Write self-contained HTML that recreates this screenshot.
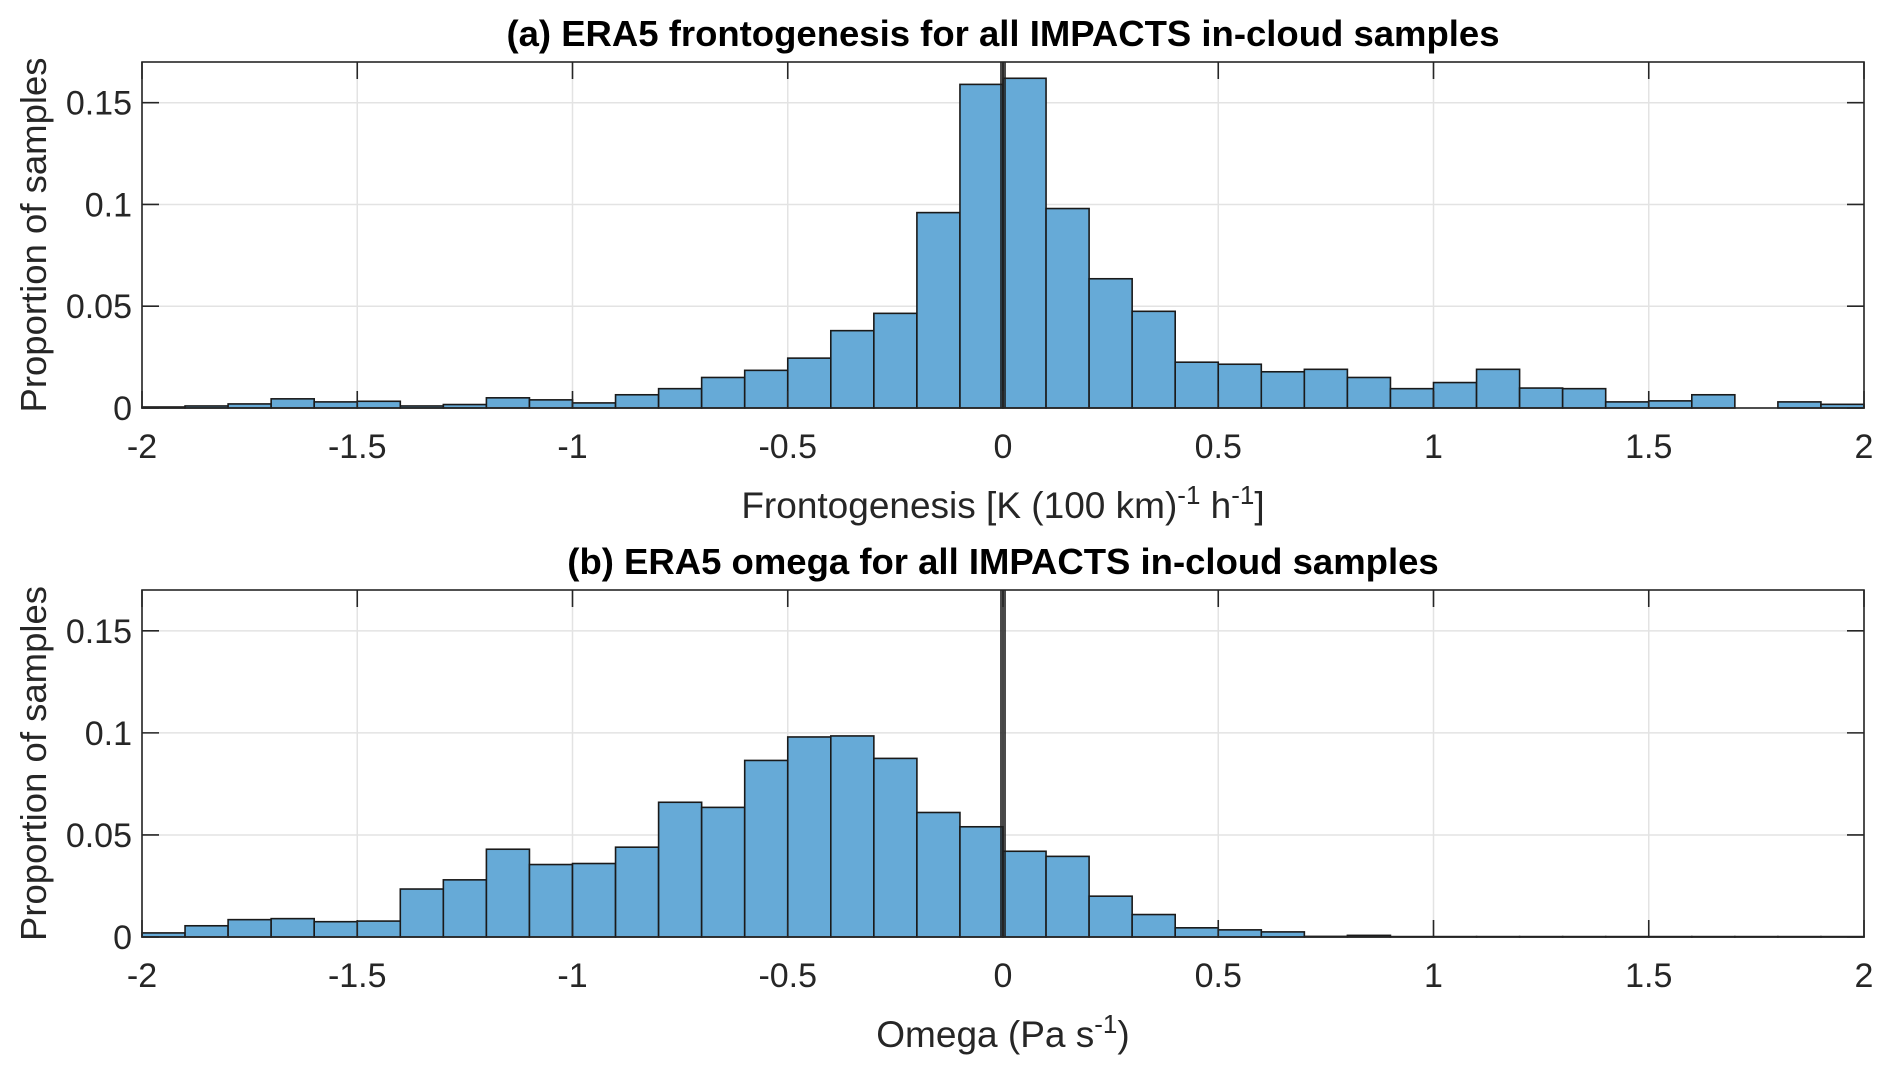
<!DOCTYPE html>
<html><head><meta charset="utf-8">
<style>
html,body{margin:0;padding:0;background:#fff;}
svg{display:block;font-family:"Liberation Sans",Helvetica,Arial,sans-serif;}
</style></head>
<body>
<svg id="chart" width="1892" height="1070" viewBox="0 0 1892 1070" xmlns="http://www.w3.org/2000/svg"></svg>
<script>
// ---- data ----
const binEdgesStart = -2;
const binWidth = 0.1;
const frontoValues = [0.0005,0.001,0.002,0.0045,0.003,0.0033,0.001,0.0017,0.005,0.004,
  0.0025,0.0065,0.0095,0.015,0.0185,0.0245,0.038,0.0465,0.096,0.159,
  0.162,0.098,0.0635,0.0475,0.0225,0.0215,0.0178,0.019,0.015,0.0095,
  0.0125,0.019,0.0098,0.0095,0.003,0.0035,0.0065,0,0.003,0.0018];
const omegaValues = [0.002,0.0055,0.0085,0.009,0.0075,0.0078,0.0235,0.028,0.043,0.0355,
  0.036,0.044,0.066,0.0635,0.0865,0.098,0.0985,0.0875,0.061,0.054,
  0.042,0.0395,0.02,0.011,0.0045,0.0035,0.0025,0.0003,0.0008,0.0002,
  0.0002,0.0002,0.0002,0.0002,0.0002,0.0002,0.0002,0.0002,0.0002,0.0002];
const xTicks = [-2,-1.5,-1,-0.5,0,0.5,1,1.5,2];
const xTickLabels = ["-2","-1.5","-1","-0.5","0","0.5","1","1.5","2"];
const yTicks = [0,0.05,0.1,0.15];
const yTickLabels = ["0","0.05","0.1","0.15"];
const refLineX = 0;

const NS = "http://www.w3.org/2000/svg";
const svg = document.getElementById('chart');
function mk(tag, attrs, parent){
  const e = document.createElementNS(NS, tag);
  for (const k in attrs) e.setAttribute(k, attrs[k]);
  (parent||svg).appendChild(e);
  return e;
}

function panel(opts){
  const L=142, R=1864, T=opts.top, B=opts.bottom;
  const xMin=-2, xMax=2, yMax=0.17;
  const sx = v => L + (v - xMin) / (xMax - xMin) * (R - L);
  const sy = v => B - v / yMax * (B - T);
  const g = mk('g', {});
  
  
  xTicks.forEach(t => {
    const ln = mk('line',{x1:sx(t),x2:sx(t),y1:T,y2:B,stroke:'#e3e3e3','stroke-width':1.5},g);
    
    
  });
  yTicks.forEach(t => {
    const ln = mk('line',{x1:L,x2:R,y1:sy(t),y2:sy(t),stroke:'#e3e3e3','stroke-width':1.5},g);
    
    
  });
  opts.values.forEach((v,i) => {
    const x0 = binEdgesStart + i*binWidth;
    const r = mk('rect',{x:sx(x0),y:sy(v),width:sx(x0+binWidth)-sx(x0),height:B-sy(v),
      fill:'#66aad7',stroke:'#1a1a1a','stroke-width':1.6},g);
    
    
  });
  const ref = mk('line',{x1:sx(refLineX),x2:sx(refLineX),y1:T,y2:B,stroke:'#1e1e1e','stroke-opacity':0.8,'stroke-width':6},g);
  
  
  const box = mk('rect',{x:L,y:T,width:R-L,height:B-T,fill:'none',stroke:'#262626','stroke-width':1.6},g);
  
  
  xTicks.forEach((t,i) => {
    mk('line',{x1:sx(t),x2:sx(t),y1:B,y2:B-17,stroke:'#262626','stroke-width':1.6},g);
    mk('line',{x1:sx(t),x2:sx(t),y1:T,y2:T+17,stroke:'#262626','stroke-width':1.6},g);
    const tx = mk('text',{x:sx(t),y:B+50,'text-anchor':'middle','font-size':34,fill:'#262626'},g);
    tx.textContent = xTickLabels[i];
    
    
  });
  yTicks.forEach((t,i) => {
    mk('line',{x1:L,x2:L+17,y1:sy(t),y2:sy(t),stroke:'#262626','stroke-width':1.6},g);
    mk('line',{x1:R,x2:R-17,y1:sy(t),y2:sy(t),stroke:'#262626','stroke-width':1.6},g);
    const tx = mk('text',{x:L-10,y:sy(t)+12,'text-anchor':'end','font-size':34,fill:'#262626'},g);
    tx.textContent = yTickLabels[i];
    
    
  });
  const ti = mk('text',{x:(L+R)/2,y:T-16,'text-anchor':'middle','font-size':36.5,'font-weight':'bold',fill:'#000'},g);
  ti.textContent = opts.title;
  
  
  const yl = mk('text',{x:0,y:0,'text-anchor':'middle','font-size':36.5,fill:'#262626',
    transform:`translate(46,${(T+B)/2}) rotate(-90)`},g);
  yl.textContent = 'Proportion of samples';
  
  
  const xl = mk('text',{x:(L+R)/2,y:B+110,'text-anchor':'middle','font-size':37,fill:'#262626'},g);
  xl.innerHTML = opts.xlabel;
  
  
}

panel({name:'panel-a-frontogenesis', top:62, bottom:408, values:frontoValues,
  title:'(a) ERA5 frontogenesis for all IMPACTS in-cloud samples',
  xlabel:'Frontogenesis [K (100 km)<tspan dy="-14" font-size="26">-1</tspan><tspan dy="14"> h</tspan><tspan dy="-14" font-size="26">-1</tspan><tspan dy="14">]</tspan>'});
panel({name:'panel-b-omega', top:590, bottom:937, values:omegaValues,
  title:'(b) ERA5 omega for all IMPACTS in-cloud samples',
  xlabel:'Omega (Pa s<tspan dy="-14" font-size="26">-1</tspan><tspan dy="14">)</tspan>'});
</script>
</body></html>
